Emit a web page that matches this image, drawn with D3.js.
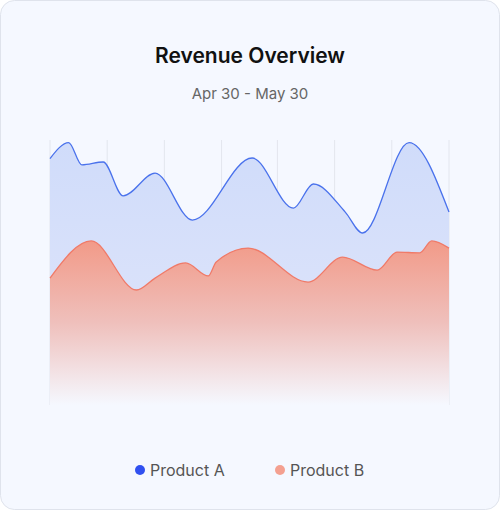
<!DOCTYPE html>
<html><head><meta charset="utf-8">
<script src="https://cdn.jsdelivr.net/npm/d3@7"></script>
<style>body{margin:0;background:#fff;font-family:Inter,"Noto Sans",sans-serif}</style>
</head><body><svg id="chart" width="500" height="510"></svg>
<script>
const daysA = [0, 1.4, 2.4, 4, 5.5, 7.9, 10.7, 15.2, 18.3, 19.8, 22.2, 23.5, 27, 30];
const productA = [93, 99, 90.6, 91.7, 78.9, 87.5, 69.8, 93.2, 74.3, 83.4, 72.8, 64.9, 99, 72.8];
const daysB = [0, 3.1, 6.5, 7.9, 10.2, 11.9, 12.5, 14.9, 19.4, 22, 24.6, 26.1, 27.8, 28.7, 30];
const productB = [47.9, 61.9, 43.4, 47.9, 53.6, 48.7, 54, 59.2, 46.4, 55.8, 50.9, 57.7, 57.4, 61.9, 59.2];
const gridDays = [0, 4.3, 8.6, 12.9, 17.1, 21.4, 25.7, 30];
const seriesNames = ["Product A", "Product B"];

const svg = d3.select("#chart");
svg.append("rect").attr("x", 0.5).attr("y", 0.5).attr("width", 499).attr("height", 509)
  .attr("rx", 14).attr("fill", "#f5f8ff").attr("stroke", "#dfe3ec");

svg.append("text").attr("x", 250).attr("y", 63).attr("text-anchor", "middle")
  .attr("font-size", 21).attr("font-weight", 600).attr("fill", "#111").text("Revenue Overview");
svg.append("text").attr("x", 250).attr("y", 99).attr("text-anchor", "middle")
  .attr("font-size", 15).attr("fill", "#666").text("Apr 30 - May 30");

const x = d3.scaleLinear().domain([0, 30]).range([50, 449]);
const y = d3.scaleLinear().domain([0, 100]).range([405, 140]);

const defs = svg.append("defs");
const gA = defs.append("linearGradient").attr("id", "gA").attr("x1", 0).attr("y1", 0).attr("x2", 0).attr("y2", 1);
gA.append("stop").attr("offset", 0).attr("stop-color", "#d0dcfa");
gA.append("stop").attr("offset", 0.6).attr("stop-color", "#dae2fa");
gA.append("stop").attr("offset", 1).attr("stop-color", "#f5f8ff");
const gB = defs.append("linearGradient").attr("id", "gB").attr("x1", 0).attr("y1", 0).attr("x2", 0).attr("y2", 1);
gB.append("stop").attr("offset", 0).attr("stop-color", "#f29a88");
gB.append("stop").attr("offset", 0.5).attr("stop-color", "#efc0bc");
gB.append("stop").attr("offset", 1).attr("stop-color", "#f5f8ff");

svg.append("g").selectAll("line").data(gridDays).join("line")
  .attr("x1", d => x(d)).attr("x2", d => x(d)).attr("y1", 140).attr("y2", 405)
  .attr("stroke", "#e3e6ee").attr("stroke-width", 1);

const curve = d3.curveMonotoneX;
const ptsA = daysA.map((d, i) => [d, productA[i]]);
const ptsB = daysB.map((d, i) => [d, productB[i]]);
const area = d3.area().x(d => x(d[0])).y0(y(0)).y1(d => y(d[1])).curve(curve);
const line = d3.line().x(d => x(d[0])).y(d => y(d[1])).curve(curve);

svg.append("path").attr("d", area(ptsA)).attr("fill", "url(#gA)");
svg.append("path").attr("d", line(ptsA)).attr("fill", "none").attr("stroke", "#4a72ec").attr("stroke-width", 1.3);
svg.append("path").attr("d", area(ptsB)).attr("fill", "url(#gB)");
svg.append("path").attr("d", line(ptsB)).attr("fill", "none").attr("stroke", "#f07a68").attr("stroke-width", 1.3);

const colors = ["#3050f0", "#f4a090"];
const leg = svg.append("g").selectAll("g").data(seriesNames).join("g")
  .attr("transform", (d, i) => `translate(${140 + i * 140},470)`);
leg.append("circle").attr("r", 5).attr("fill", (d, i) => colors[i]);
leg.append("text").attr("x", 10).attr("y", 5.5).attr("font-size", 16).attr("fill", "#555").text(d => d);
</script></body></html>
